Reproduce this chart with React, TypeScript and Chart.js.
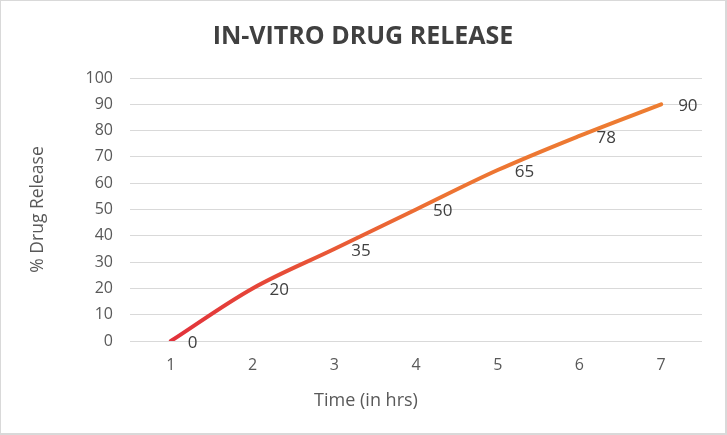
import React, { useEffect, useRef } from 'react'
import Chart from 'chart.js/auto'

const hours = ['1', '2', '3', '4', '5', '6', '7']
const release = [0, 20, 35, 50, 65, 78, 90]
const yTicks = { min: 0, max: 100, step: 10 }
const xTitle = 'Time (in hrs)'

// value labels beside each point, plus the x axis title (centred on the whole chart, as in Excel)
const labelPlugin = {
  id: 'pointLabels',
  afterDatasetsDraw(chart: any) {
    const { ctx } = chart
    const meta = chart.getDatasetMeta(0)
    ctx.save()
    ctx.font = '17px "Open Sans"'
    ctx.fillStyle = '#404040'
    ctx.textAlign = 'left'
    ctx.textBaseline = 'middle'
    meta.data.forEach((pt: any, i: number) => {
      ctx.fillText(String(release[i]), pt.x + 17, pt.y + 2)
    })
    ctx.restore()
  },
  afterDraw(chart: any) {
    const { ctx } = chart
    const xs = chart.scales.x
    ctx.save()
    ctx.font = '18px "Open Sans"'
    ctx.fillStyle = '#595959'
    ctx.textAlign = 'center'
    ctx.textBaseline = 'middle'
    ctx.fillText(xTitle, chart.width / 2 + 3, xs.bottom - 32)
    ctx.restore()
  },
}

export default function App() {
  const chartRef = useRef<HTMLCanvasElement | null>(null)
  const chartInstance = useRef<Chart | null>(null)

  useEffect(() => {
    if (!chartRef.current) return
    const ctx = chartRef.current.getContext('2d')
    if (!ctx) return
    if (chartInstance.current) chartInstance.current.destroy()

    Chart.defaults.font.family = '"Open Sans", sans-serif'

    chartInstance.current = new Chart(ctx, {
      type: 'line',
      data: {
        labels: hours,
        datasets: [
          {
            label: '% Drug Release',
            data: release,
            borderWidth: 4,
            tension: 0.35,
            pointRadius: 0,
            borderCapStyle: 'round',
            borderColor: (c: any) => {
              const { chart } = c
              const area = chart.chartArea
              if (!area) return '#ED7D31'
              const g = chart.ctx.createLinearGradient(area.left + 40, 0, area.right - 40, 0)
              g.addColorStop(0, '#E2313B')
              g.addColorStop(0.55, '#ED7333')
              g.addColorStop(1, '#ED7D31')
              return g
            },
          },
        ],
      },
      options: {
        responsive: true,
        maintainAspectRatio: false,
        animation: false,
        layout: { padding: 0 },
        scales: {
          x: {
            type: 'category',
            offset: true,
            grid: { display: false, drawTicks: false },
            border: { display: false },
            ticks: { color: '#595959', font: { size: 16 }, padding: 15 },
            afterFit: (scale: any) => {
              scale.height = 92
            },
          },
          y: {
            min: yTicks.min,
            max: yTicks.max,
            grid: { color: '#d9d9d9', lineWidth: 1, drawTicks: false },
            border: { display: false },
            ticks: { stepSize: yTicks.step, color: '#595959', font: { size: 16 }, padding: 17 },
            title: {
              display: true,
              text: '% Drug Release',
              color: '#595959',
              font: { size: 17.5 },
              padding: { top: 27, bottom: 0 },
            },
            afterFit: (scale: any) => {
              scale.width = 129
            },
          },
          // empty right axis, only to keep the plot's right margin
          yRight: {
            position: 'right',
            min: yTicks.min,
            max: yTicks.max,
            grid: { display: false, drawTicks: false },
            border: { display: false },
            ticks: { display: false },
            afterFit: (scale: any) => {
              scale.width = 23
            },
          },
        },
        plugins: {
          legend: { display: false },
          tooltip: { enabled: false },
          title: {
            display: true,
            text: 'IN-VITRO DRUG RELEASE',
            color: '#404040',
            font: { size: 25, weight: 'bold' },
            padding: { top: 21, bottom: 26 },
          },
        },
      },
      plugins: [labelPlugin],
    })

    return () => {
      if (chartInstance.current) {
        chartInstance.current.destroy()
        chartInstance.current = null
      }
    }
  }, [])

  return (
    <div
      style={{
        position: 'absolute',
        left: 0,
        top: 0,
        width: 727,
        height: 435,
        boxSizing: 'border-box',
        borderStyle: 'solid',
        borderColor: '#d9d9d9',
        borderWidth: '1px 2px 2px 1px',
        background: '#ffffff',
      }}
    >
      <canvas ref={chartRef} />
    </div>
  )
}
